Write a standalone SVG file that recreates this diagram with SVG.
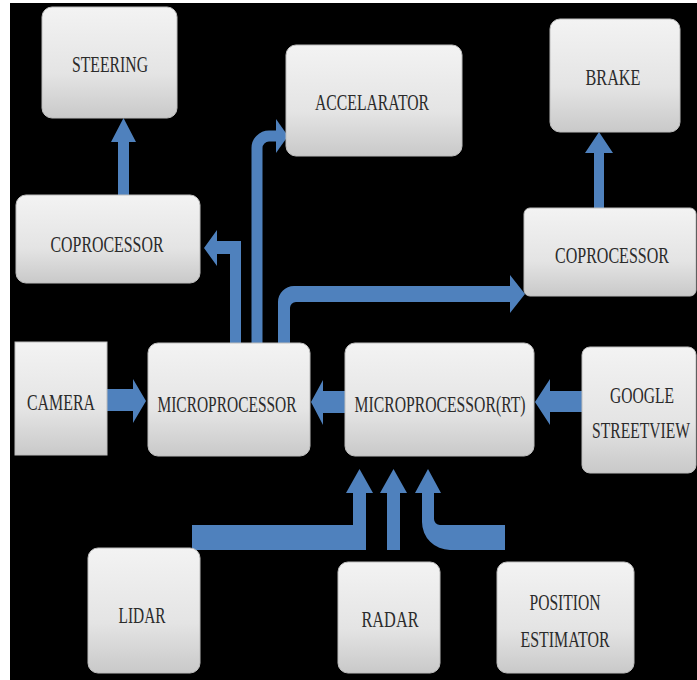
<svg xmlns="http://www.w3.org/2000/svg" width="697" height="680" viewBox="0 0 697 680">
<defs>
<linearGradient id="g" x1="0" y1="0" x2="0" y2="1">
<stop offset="0" stop-color="#f3f3f3"/>
<stop offset="0.6" stop-color="#e4e4e4"/>
<stop offset="1" stop-color="#c9c9c9"/>
</linearGradient>
<style>
.box{fill:url(#g);stroke:#bdbdbd;stroke-width:1}
.t{font-family:"Liberation Serif","Times New Roman",serif;font-size:24px;fill:#2b2b2b;text-anchor:middle}
.a{fill:#4f81bd}
.s{fill:none;stroke:#4f81bd}
</style>
</defs>
<rect x="0" y="0" width="697" height="680" fill="#ffffff"/>
<rect x="10" y="3" width="687" height="677" fill="#000000"/>

<g id="connectors">
<!-- coprocessor left -> steering -->
<polygon class="a" points="118,195 118,142 111,142 123.5,118 136,142 129,142 129,195"/>
<!-- coprocessor right -> brake -->
<polygon class="a" points="594,208 594,153 585,153 599,132 613,153 604,153 604,208"/>
<!-- micro -> coprocessor left -->
<polygon class="a" points="230,343 230,254 217,254 217,266 204,248 217,230 217,241 241,241 241,343"/>
<!-- micro -> accelarator -->
<path class="s" stroke-width="11" d="M257,343 V148 A12,12 0 0 1 269,136 H278"/>
<polygon class="a" points="276,119 288,136 276,153"/>
<!-- micro -> coprocessor right -->
<path class="a" d="M278,343 V302 A16,16 0 0 1 294,286 H510 V275 L525,294 L510,313 V302 H296 A6,6 0 0 0 290,308 V343 Z"/>
<!-- camera -> micro -->
<polygon class="a" points="107,389 133,389 133,379 146,401 133,423 133,411 107,411"/>
<!-- micro RT -> micro -->
<polygon class="a" points="345,391 323,391 323,380 311,402 323,425 323,413 345,413"/>
<!-- google -> micro RT -->
<polygon class="a" points="582,391 550,391 550,379 535,402 550,425 550,412 582,412"/>
<!-- lidar -> micro RT -->
<polygon class="a" points="192,525 353,525 353,493 346,493 359.5,469 373,493 366,493 366,550 192,550"/>
<!-- radar -> micro RT -->
<polygon class="a" points="387,550 387,493 380,493 393.5,469 407,493 400,493 400,550"/>
<!-- position estimator -> micro RT -->
<path class="a" d="M505,525 H440 A6,6 0 0 1 434,519 V493 H441 L428,469 L415,493 H422 V522 A28,28 0 0 0 450,550 H505 Z"/>
</g>

<g id="steering">
<rect class="box" x="42" y="7" width="135" height="111" rx="10"/>
<text class="t" x="110" y="72" textLength="76" lengthAdjust="spacingAndGlyphs">STEERING</text>
</g>
<g id="accelarator">
<rect class="box" x="286" y="45" width="176" height="111" rx="10"/>
<text class="t" x="372" y="110" textLength="114" lengthAdjust="spacingAndGlyphs">ACCELARATOR</text>
</g>
<g id="brake">
<rect class="box" x="550" y="19" width="130" height="113" rx="10"/>
<text class="t" x="613" y="85" textLength="55" lengthAdjust="spacingAndGlyphs">BRAKE</text>
</g>
<g id="coprocessor-left">
<rect class="box" x="16" y="195" width="184" height="88" rx="10"/>
<text class="t" x="107" y="252" textLength="113" lengthAdjust="spacingAndGlyphs">COPROCESSOR</text>
</g>
<g id="coprocessor-right">
<rect class="box" x="524" y="208" width="172" height="88" rx="6"/>
<text class="t" x="612" y="263" textLength="114" lengthAdjust="spacingAndGlyphs">COPROCESSOR</text>
</g>
<g id="camera">
<rect class="box" x="15" y="342" width="92" height="113"/>
<text class="t" x="61" y="410" textLength="68" lengthAdjust="spacingAndGlyphs">CAMERA</text>
</g>
<g id="microprocessor">
<rect class="box" x="148" y="343" width="162" height="113" rx="10"/>
<text class="t" x="227" y="412" textLength="139" lengthAdjust="spacingAndGlyphs">MICROPROCESSOR</text>
</g>
<g id="microprocessor-rt">
<rect class="box" x="345" y="343" width="189" height="113" rx="10"/>
<text class="t" x="440" y="412" textLength="171" lengthAdjust="spacingAndGlyphs">MICROPROCESSOR(RT)</text>
</g>
<g id="google-streetview">
<rect class="box" x="582" y="347" width="114" height="126" rx="8"/>
<text class="t" x="642" y="403" textLength="64" lengthAdjust="spacingAndGlyphs">GOOGLE</text>
<text class="t" x="641" y="438" textLength="98" lengthAdjust="spacingAndGlyphs">STREETVIEW</text>
</g>
<g id="lidar">
<rect class="box" x="88" y="548" width="112" height="125" rx="10"/>
<text class="t" x="142" y="623" textLength="47" lengthAdjust="spacingAndGlyphs">LIDAR</text>
</g>
<g id="radar">
<rect class="box" x="338" y="562" width="102" height="111" rx="10"/>
<text class="t" x="390" y="627" textLength="57" lengthAdjust="spacingAndGlyphs">RADAR</text>
</g>
<g id="position-estimator">
<rect class="box" x="497" y="562" width="137" height="111" rx="10"/>
<text class="t" x="565" y="610" textLength="71" lengthAdjust="spacingAndGlyphs">POSITION</text>
<text class="t" x="565" y="647" textLength="89" lengthAdjust="spacingAndGlyphs">ESTIMATOR</text>
</g>
</svg>
